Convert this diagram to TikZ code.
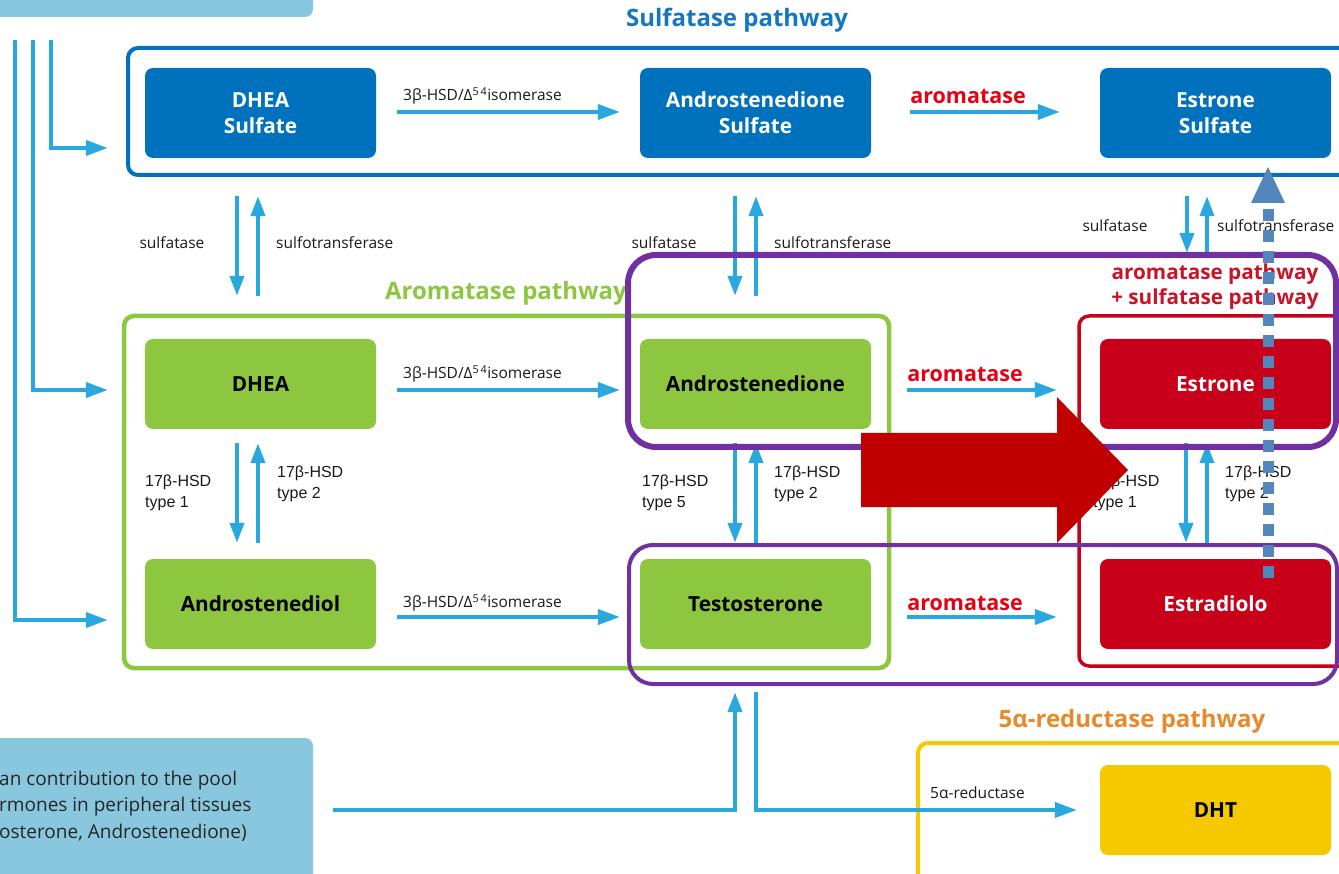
\documentclass[tikz,border=0pt]{standalone}
\usepackage{fontspec}
\setmainfont{Open Sans}
\newfontfamily\arialfont{Liberation Sans}
\usetikzlibrary{arrows.meta}

\definecolor{flowblue}{RGB}{41,168,224}
\definecolor{sulfblue}{RGB}{0,113,188}
\definecolor{sulftitle}{RGB}{20,120,190}
\definecolor{aromgreen}{RGB}{141,198,63}
\definecolor{estred}{RGB}{200,0,25}
\definecolor{enzred}{RGB}{230,0,20}
\definecolor{mixred}{RGB}{200,20,40}
\definecolor{hilite}{RGB}{112,48,160}
\definecolor{dhtyellow}{RGB}{245,200,0}
\definecolor{redtitle}{RGB}{232,137,44}
\definecolor{poolblue}{RGB}{137,199,223}
\definecolor{bigred}{RGB}{192,0,0}
\definecolor{steel}{RGB}{84,134,190}

\tikzset{
  conn/.style={line width=4pt, draw=flowblue, -{Triangle[length=22pt,width=15pt]}},
  vconn/.style={line width=4pt, draw=flowblue, -{Triangle[length=20pt,width=14pt]}},
  mol/.style={rounded corners=8pt, minimum width=231pt, minimum height=90pt,
    inner sep=0pt, align=center, font=\fontsize{20.8}{26}\selectfont\bfseries},
  sulfmol/.style={mol, fill=sulfblue, text=white},
  arommol/.style={mol, fill=aromgreen, text=black},
  estmol/.style={mol, fill=estred, text=white},
  dhtmol/.style={mol, fill=dhtyellow, text=black},
  enz/.style={font=\fontsize{15.5}{18}\selectfont, text=black!90, inner sep=0pt},
  hsd/.style={font=\arialfont\fontsize{16}{21}\selectfont, align=left, anchor=west, inner sep=0pt, text=black!90},
  arom/.style={font=\fontsize{21.5}{24}\selectfont\bfseries, text=enzred, inner sep=0pt},
  pathtitle/.style={font=\fontsize{24}{28}\selectfont\bfseries, inner sep=0pt},
  frame/.style={line width=4pt, rounded corners=10pt},
  hiframe/.style={draw=hilite, rounded corners=28pt}
}

\begin{document}
\begin{tikzpicture}[x=1pt,y=-1pt]
\useasboundingbox (0,0) rectangle (1339,874);

% source boxes (light blue)
\node[fill=poolblue, rounded corners=8pt, minimum width=333pt, minimum height=37pt, inner sep=0pt] (topsrc) at (146.5,-1.5) {};
\node[fill=poolblue, rounded corners=8pt, minimum width=333pt, minimum height=162pt, inner sep=0pt] (poolbox) at (146.5,819) {};
\node[anchor=west, align=left, inner sep=0pt, text=black!85, font=\fontsize{19}{26.5}\selectfont] (pooltext) at (-1,806)
  {an contribution to the pool\\rmones in peripheral tissues\\osterone, Androstenedione)};

% pathway frames
\draw[frame, draw=sulfblue] (128,48) rectangle (1370,175);
\draw[frame, draw=aromgreen, line width=4.5pt] (124,316) rectangle (889,668);
\draw[frame, draw=estred, line width=3.5pt] (1079,316) rectangle (1370,666);
\draw[frame, draw=dhtyellow] (918,743) rectangle (1370,900);

% pathway titles
\node[pathtitle, text=sulftitle] (tsulf) at (737,20) {Sulfatase pathway};
\node[pathtitle, text=aromgreen] (tarom) at (506,293) {Aromatase pathway};
\node[pathtitle, text=redtitle] (tred) at (1132,721) {5α-reductase pathway};
\node[font=\fontsize{20.7}{25}\selectfont\bfseries, text=mixred, align=center, inner sep=0pt] (tmix) at (1215,287)
  {aromatase pathway\\+ sulfatase pathway};

% molecules
\node[sulfmol] (dheas) at (260.5,113) {DHEA\\Sulfate};
\node[sulfmol] (andros) at (755.5,113) {Androstenedione\\Sulfate};
\node[sulfmol] (estrones) at (1215.5,113) {Estrone\\Sulfate};
\node[arommol] (dhea) at (260.5,384) {DHEA};
\node[arommol] (andro) at (755.5,384) {Androstenedione};
\node[arommol] (androdiol) at (260.5,604) {Androstenediol};
\node[arommol] (testo) at (755.5,604) {Testosterone};
\node[estmol] (estrone) at (1215.5,384) {Estrone};
\node[estmol] (estradiol) at (1215.5,604) {Estradiolo};
\node[dhtmol] (dht) at (1215.5,810) {DHT};

% feeders from the source box
\coordinate (src1) at (51,40);
\coordinate (src2) at (33,40);
\coordinate (src3) at (15,40);
\draw[conn] (src1) |- ([xshift=-37pt,yshift=-35pt]dheas.west);
\draw[conn] (src2) |- ([xshift=-37pt,yshift=-6pt]dhea.west);
\draw[conn] (src3) |- ([xshift=-37pt,yshift=-16pt]androdiol.west);

% horizontal conversions
\draw[conn] ([xshift=21pt,yshift=1pt]dheas.east) -- ([xshift=-20pt,yshift=1pt]andros.west);
\draw[conn] ([xshift=39pt,yshift=1pt]andros.east) -- ([xshift=-40pt,yshift=1pt]estrones.west);
\draw[conn] ([xshift=21pt,yshift=-6pt]dhea.east) -- ([xshift=-20pt,yshift=-6pt]andro.west);
\draw[conn] ([xshift=36pt,yshift=-6pt]andro.east) -- ([xshift=-43pt,yshift=-6pt]estrone.west);
\draw[conn] ([xshift=21pt,yshift=-13pt]androdiol.east) -- ([xshift=-20pt,yshift=-13pt]testo.west);
\draw[conn] ([xshift=36pt,yshift=-13pt]testo.east) -- ([xshift=-43pt,yshift=-13pt]estradiol.west);

\node[enz, anchor=west] (l1) at (403,96) {3β-HSD/Δ\textsuperscript{5\,4}isomerase};
\node[enz, anchor=west] (l2) at (403,374) {3β-HSD/Δ\textsuperscript{5\,4}isomerase};
\node[enz, anchor=west] (l3) at (403,603) {3β-HSD/Δ\textsuperscript{5\,4}isomerase};
\node[arom] (a1) at (968,96) {aromatase};
\node[arom] (a2) at (965,374) {aromatase};
\node[arom] (a3) at (965,603) {aromatase};

% sulfatase / sulfotransferase pairs
\draw[vconn] ([xshift=-23.5pt,yshift=-38pt]dheas.south) -- ([xshift=-23.5pt,yshift=43pt]dhea.north);
\draw[vconn] ([xshift=-2.5pt,yshift=43pt]dhea.north) -- ([xshift=-2.5pt,yshift=-38pt]dheas.south);
\draw[vconn] ([xshift=-20.5pt,yshift=-38pt]andros.south) -- ([xshift=-20.5pt,yshift=43pt]andro.north);
\draw[vconn] ([xshift=0.5pt,yshift=43pt]andro.north) -- ([xshift=0.5pt,yshift=-38pt]andros.south);
\draw[vconn] ([xshift=-28.5pt,yshift=-38pt]estrones.south) -- ([xshift=-28.5pt,yshift=86pt]estrone.north);
\draw[vconn] ([xshift=-8.5pt,yshift=86pt]estrone.north) -- ([xshift=-8.5pt,yshift=-38pt]estrones.south);

\node[enz] (s1) at (172,243) {sulfatase};
\node[enz, anchor=west] (t1) at (276,243) {sulfotransferase};
\node[enz] (s2) at (664,243) {sulfatase};
\node[enz, anchor=west] (t2) at (774,243) {sulfotransferase};
\node[enz] (s3) at (1115,226) {sulfatase};
\node[enz, anchor=west] (t3) at (1217,226) {sulfotransferase};

% 17beta-HSD pairs
\draw[vconn] ([xshift=-23.5pt,yshift=-14pt]dhea.south) -- ([xshift=-23.5pt,yshift=16pt]androdiol.north);
\draw[vconn] ([xshift=-2.5pt,yshift=16pt]androdiol.north) -- ([xshift=-2.5pt,yshift=-14pt]dhea.south);
\draw[vconn] ([xshift=-20.5pt,yshift=-14pt]andro.south) -- ([xshift=-20.5pt,yshift=16pt]testo.north);
\draw[vconn] ([xshift=0.5pt,yshift=16pt]testo.north) -- ([xshift=0.5pt,yshift=-14pt]andro.south);
\draw[vconn] ([xshift=-29.5pt,yshift=-14pt]estrone.south) -- ([xshift=-29.5pt,yshift=16pt]estradiol.north);
\draw[vconn] ([xshift=-8.5pt,yshift=16pt]estradiol.north) -- ([xshift=-8.5pt,yshift=-14pt]estrone.south);

\node[hsd] (h1) at (145,493) {17β-HSD\\type 1};
\node[hsd] (h2) at (277,484) {17β-HSD\\type 2};
\node[hsd] (h3) at (642,493) {17β-HSD\\type 5};
\node[hsd] (h4) at (774,484) {17β-HSD\\type 2};
\node[hsd] (h5) at (1093,493) {17β-HSD\\type 1};
\node[hsd] (h6) at (1225,484) {17β-HSD\\type 2};

% peripheral pool and 5alpha-reduction
\coordinate (poolout) at (333,810);
\draw[vconn] (poolout) -| ([xshift=-20.5pt,yshift=-43pt]testo.south);
\draw[conn] ([xshift=0.5pt,yshift=-43pt]testo.south) |- ([xshift=-23pt]dht.west);
\node[enz, anchor=west] (r1) at (930,793) {5α-reductase};

% highlight frames
\draw[hiframe, line width=6pt] (628,255) rectangle (1336,447);
\draw[hiframe, line width=4pt, rounded corners=24pt] (629,545) rectangle (1337,684);

% large red arrow
\fill[bigred] (861,433) -- (1057,433) -- (1057,397) -- (1128,470) -- (1057,543) -- (1057,507) -- (861,507) -- cycle;

% dashed return arrow
\coordinate (dashfoot) at (1268,578);
\coordinate (dashtop) at (1268,205);
\draw[steel, line width=11pt, dash pattern=on 12pt off 9pt] (dashfoot) -- (dashtop);
\fill[steel] (1251,203) -- (1285,203) -- (1268,167) -- cycle;
\end{tikzpicture}
\end{document}
